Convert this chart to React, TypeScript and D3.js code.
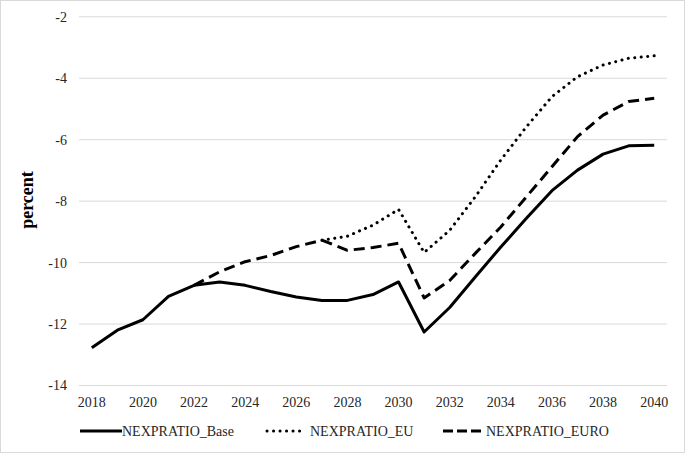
import React from "react";
import * as d3 from "d3";

const years = [2018, 2019, 2020, 2021, 2022, 2023, 2024, 2025, 2026, 2027, 2028, 2029, 2030, 2031, 2032, 2033, 2034, 2035, 2036, 2037, 2038, 2039, 2040];
const xTickLabels = ["2018", "2020", "2022", "2024", "2026", "2028", "2030", "2032", "2034", "2036", "2038", "2040"];
const yTicks = [-14, -12, -10, -8, -6, -4, -2];

const base: (number | null)[] = [-12.77, -12.2, -11.86, -11.1, -10.74, -10.63, -10.74, -10.94, -11.12, -11.23, -11.23, -11.04, -10.63, -12.26, -11.46, -10.47, -9.49, -8.56, -7.66, -6.99, -6.47, -6.2, -6.18];
const eu: (number | null)[] = [null, null, null, null, null, null, null, null, null, -9.27, -9.14, -8.78, -8.27, -9.67, -8.95, -7.86, -6.66, -5.58, -4.6, -3.95, -3.57, -3.35, -3.27];
const euro: (number | null)[] = [null, null, null, null, -10.74, -10.3, -9.97, -9.77, -9.48, -9.27, -9.6, -9.51, -9.37, -11.15, -10.58, -9.7, -8.84, -7.86, -6.88, -5.9, -5.2, -4.76, -4.65];

const seriesNames = ["NEXPRATIO_Base", "NEXPRATIO_EU", "NEXPRATIO_EURO"];

export default function App() {
  const W = 685, H = 453;
  const x = d3.scalePoint<number>().domain(years).range([79, 667]).padding(0.5);
  const y = d3.scaleLinear().domain([-14, -2]).range([385.5, 16.8]);
  const font = "Liberation Serif";

  const mk = (vals: (number | null)[]) =>
    d3.line<number>()
      .defined((_, i) => vals[i] !== null)
      .x((d) => x(d) as number)
      .y((_, i) => y(vals[i] as number))(years) || "";

  const styles = [
    { dash: undefined as string | undefined, cap: "butt" },
    { dash: "0.1 6.4", cap: "round" },
    { dash: "11 6", cap: "butt" },
  ];
  const data = [base, eu, euro];
  const legend = [
    { x1: 80, x2: 122, tx: 122 },
    { x1: 267, x2: 300, tx: 310 },
    { x1: 443, x2: 482, tx: 486 },
  ];
  const legendDash = [undefined, "0.1 6.4", "10 4"];

  return (
    <svg width={W} height={H} style={{ position: "absolute", left: 0, top: 0, background: "#fff", fontFamily: font }}>
      <rect x={0.5} y={0.5} width={W - 1} height={H - 1} fill="#fff" stroke="#d9d9d9" />
      {yTicks.map((t) => (
        <g key={t}>
          <line x1={79} x2={667} y1={y(t)} y2={y(t)} stroke="#d9d9d9" strokeWidth={1} />
          <text x={67} y={y(t)} dy="0.35em" textAnchor="end" fontSize={14} fill="#262626" style={{ fontFamily: font }}>{t}</text>
        </g>
      ))}
      {xTickLabels.map((l) => (
        <text key={l} x={x(+l) as number} y={402} dy="0.35em" textAnchor="middle" fontSize={14} fill="#262626" style={{ fontFamily: font }}>{l}</text>
      ))}
      <text transform="translate(27,200) rotate(-90)" textAnchor="middle" dy="0.35em" fontSize={18} fontWeight="bold" fill="#000" style={{ fontFamily: font }}>percent</text>
      {data.map((vals, i) => (
        <path key={i} d={mk(vals)} fill="none" stroke="#000" strokeWidth={3} strokeDasharray={styles[i].dash} strokeLinecap={styles[i].cap as any} strokeLinejoin="round" />
      ))}
      {legend.map((lg, i) => (
        <g key={i}>
          <line x1={lg.x1} x2={lg.x2} y1={431} y2={431} stroke="#000" strokeWidth={3} strokeDasharray={legendDash[i]} strokeLinecap={i === 1 ? "round" : "butt"} />
          <text x={lg.tx} y={431} dy="0.35em" fontSize={14} fill="#262626" style={{ fontFamily: font }}>{seriesNames[i]}</text>
        </g>
      ))}
    </svg>
  );
}
